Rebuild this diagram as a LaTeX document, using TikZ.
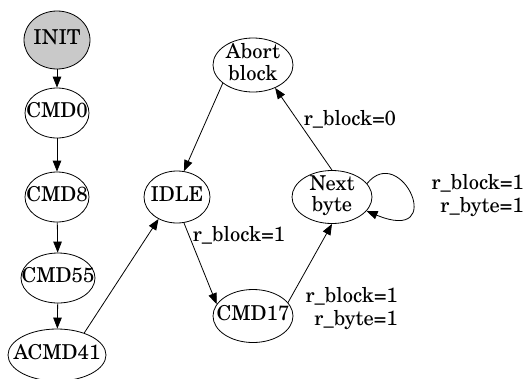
\documentclass[tikz,border=0pt]{standalone}
\usepackage{fontspec}
\setmainfont{texgyreschola-regular.otf}
\usetikzlibrary{shapes.geometric,arrows.meta}

% text centred on the node without widening the ellipse
\newcommand{\ctrtext}[1]{\vbox to 0pt{\vss\hbox to 0pt{\hss
  \begin{tabular}{@{}c@{}}#1\end{tabular}\hss}\vss}}

\begin{document}
\begin{tikzpicture}[x=1pt,y=-1pt,
  state/.style={ellipse,draw,line width=0.8pt,inner sep=0pt,
    font=\fontsize{20.5}{20.5}\selectfont},
  edge/.style={draw,line width=0.8pt,-{Triangle[length=11pt,width=8.5pt]}},
  lbl/.style={inner sep=0pt,font=\fontsize{20.5}{23}\selectfont},
]
\useasboundingbox[fill=white] (0,0) rectangle (526,378);

% states
\node[state,fill=lightgray!85,minimum width=66pt,minimum height=58pt] (init) at (57,40) {\ctrtext{INIT}};
\node[state,minimum width=64pt,minimum height=50pt] (cmd0)  at (57,113) {\ctrtext{CMD0}};
\node[state,minimum width=64pt,minimum height=50pt] (cmd8)  at (57,197) {\ctrtext{CMD8}};
\node[state,minimum width=74pt,minimum height=50pt] (cmd55) at (58,278) {\ctrtext{CMD55}};
\node[state,minimum width=98pt,minimum height=52pt] (acmd41) at (57,355) {\ctrtext{ACMD41}};
\node[state,minimum width=66pt,minimum height=52pt] (idle)  at (177,197) {\ctrtext{IDLE}};
\node[state,minimum width=80pt,minimum height=54pt] (abort) at (253,65) {\ctrtext{Abort\\block}};
\node[state,minimum width=80pt,minimum height=53pt] (next)  at (332,197) {\ctrtext{Next\\byte}};
\node[state,minimum width=80pt,minimum height=53pt] (cmd17) at (253,316) {\ctrtext{CMD17}};

% initialisation chain
\draw[edge] (init) -- (cmd0);
\draw[edge] (cmd0) -- (cmd8);
\draw[edge] (cmd8) -- (cmd55);
\draw[edge] (cmd55) -- (acmd41);
\draw[edge] (acmd41.39) -- (idle.230);

% block read loop
\draw[edge] (abort.211) -- (idle.75);
\draw[edge] (idle.285) -- (cmd17.162);
\draw[edge] (cmd17.21) -- (next.270);
\draw[edge] (next.90) -- (abort.314);
\draw[edge] (next.21) .. controls +(34,-42) and +(82,34) .. (next.-22);

% transition labels
\node[lbl] (l1) at (239,235) {r\_block=1};
\node[lbl] (l2) at (350,119) {r\_block=0};
\node[lbl,align=right,anchor=east] (l3) at (398,309) {r\_block=1\\r\_byte=1};
\node[lbl,align=right,anchor=east] (l4) at (524,196) {r\_block=1\\r\_byte=1};
\end{tikzpicture}
\end{document}
